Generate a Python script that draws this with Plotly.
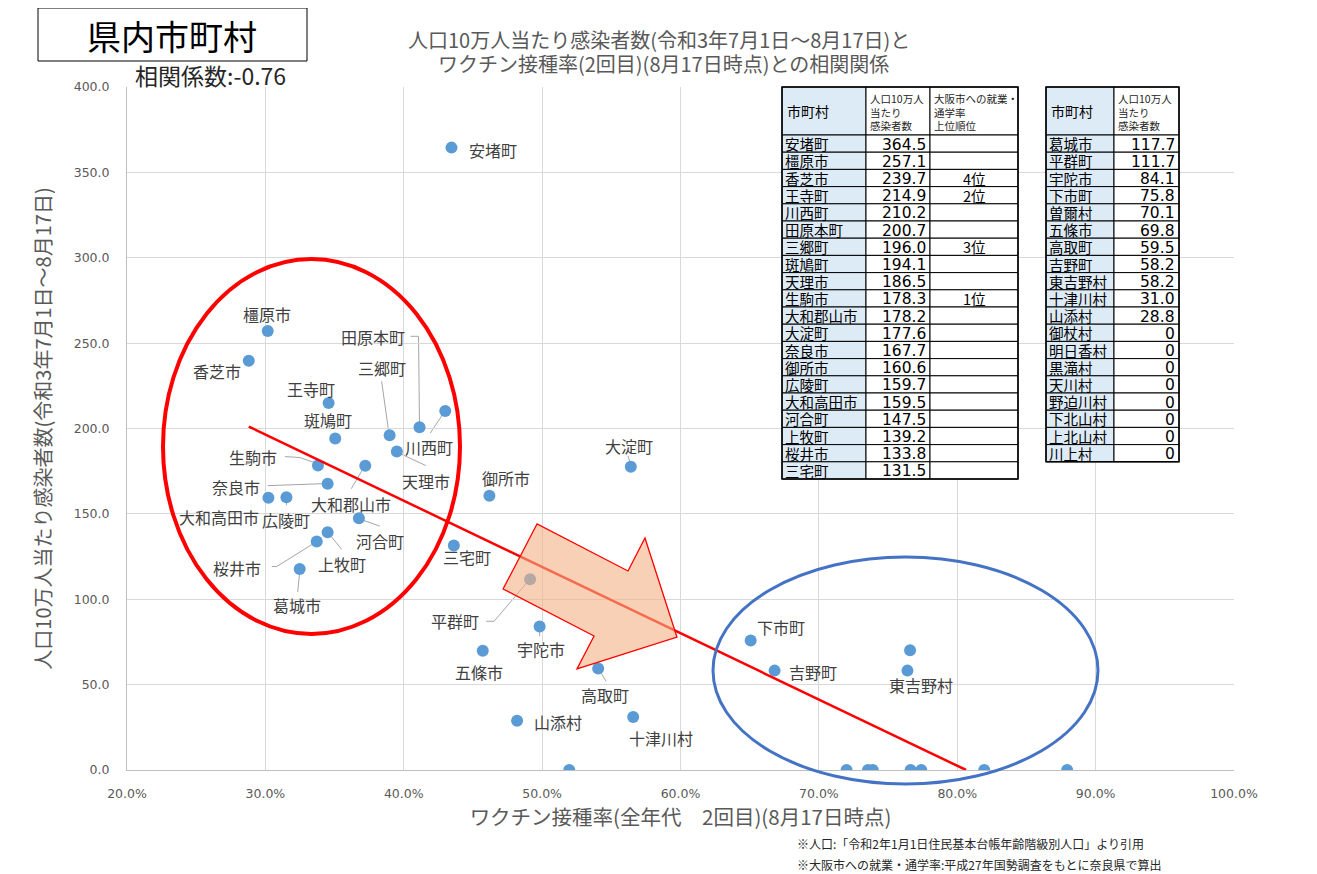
import numpy as np
import plotly.graph_objects as go

FONT = "Noto Sans CJK JP"

# 市町村(表の並び順:人口10万人当たり感染者数の多い順)
names = ["安堵町", "橿原市", "香芝市", "王寺町", "川西町", "田原本町", "三郷町", "斑鳩町", "天理市", "生駒市",
         "大和郡山市", "大淀町", "奈良市", "御所市", "広陵町", "大和高田市", "河合町", "上牧町", "桜井市", "三宅町",
         "葛城市", "平群町", "宇陀市", "下市町", "曽爾村", "五條市", "高取町", "吉野町", "東吉野村", "十津川村",
         "山添村", "御杖村", "明日香村", "黒滝村", "天川村", "野迫川村", "下北山村", "上北山村", "川上村"]
infection = [364.5, 257.1, 239.7, 214.9, 210.2, 200.7, 196.0, 194.1, 186.5, 178.3,
             178.2, 177.6, 167.7, 160.6, 159.7, 159.5, 147.5, 139.2, 133.8, 131.5,
             117.7, 111.7, 84.1, 75.8, 70.1, 69.8, 59.5, 58.2, 58.2, 31.0,
             28.8, 0, 0, 0, 0, 0, 0, 0, 0]
vaccine = [0.4345, 0.3017, 0.2880, 0.3457, 0.4300, 0.4114, 0.3898, 0.3505, 0.3950, 0.3380,
           0.3722, 0.5641, 0.3450, 0.4619, 0.3152, 0.3022, 0.3676, 0.3450, 0.3371, 0.4362,
           0.3248, 0.4913, 0.4982, 0.6507, 0.7659, 0.4571, 0.5405, 0.6680, 0.7640, 0.5658,
           0.4819, 0.8794, 0.5196, 0.7663, 0.7355, 0.7200, 0.7740, 0.8195, 0.7390]
osaka_rank = {"生駒市": "1位", "王寺町": "2位", "三郷町": "3位", "香芝市": "4位"}
corr_text = "相関係数:-0.76"

# ラベル位置(点からのピクセルずれ、右・下が正)
label_pos = {
    "安堵町": (42, 2), "橿原市": (-1, -17), "香芝市": (-32, 10), "王寺町": (-18, -14),
    "川西町": (-16, 36), "田原本町": (-47, -90), "三郷町": (-8, -67), "斑鳩町": (-7, -19),
    "天理市": (29, 29), "生駒市": (-65, -9), "大和郡山市": (-14, 38), "大淀町": (-2, -21),
    "奈良市": (-92, 3), "御所市": (17, -18), "広陵町": (0, 23), "大和高田市": (-49, 19),
    "河合町": (21, 23), "上牧町": (14, 32), "桜井市": (-80, 26), "三宅町": (13, 12),
    "葛城市": (-3, 36), "平群町": (-75, 42), "宇陀市": (1, 23), "下市町": (30, -14),
    "五條市": (-4, 21), "高取町": (7, 27), "吉野町": (38, 1), "東吉野村": (14, 14),
    "十津川村": (28, 21), "山添村": (41, 1),
}
# 引き出し線
leaders = {
    "川西町": [(-15, 22), (-1, 1)],
    "田原本町": [(-9, -91), (-1, -91), (0, -2)],
    "三郷町": [(-8, -54), (-1, -4)],
    "天理市": [(29, 14), (1, 1)],
    "生駒市": [(-33, -9), (-18, -8), (-1, -2)],
    "大和郡山市": [(-14, 23), (-1, 1)],
    "大淀町": [(-3, -11), (0, -2)],
    "奈良市": [(-60, 2), (-3, 0)],
    "広陵町": [(0, 8), (0, 2)],
    "河合町": [(21, 8), (1, 1)],
    "上牧町": [(14, 17), (1, 1)],
    "桜井市": [(-45, 25), (-40, 25), (0, 0)],
    "葛城市": [(-2, 23), (0, 3)],
    "平群町": [(-44, 42), (-36, 42), (-2, 2)],
    "宇陀市": [(0, 10), (0, 2)],
    "高取町": [(2, 3), (8, 13)],
}

# the page puts the figure 8px in from the top-left corner
PAGE = 8
FIG_W, FIG_H = 1317 - PAGE, 874 - PAGE
# plot area in page pixels
L, R, T, B = 127, 1234, 87, 770
W, H = R - L, B - T


def px(x):
    return (x - L) / W


def py(y):
    return (B - y) / H


fig = go.Figure()

fig.add_trace(go.Scatter(x=vaccine, y=infection, mode="markers", text=names,
                         marker=dict(color="#5B9BD5", size=12), hoverinfo="text+x+y"))

# 近似直線
xv = np.array(vaccine)
yv = np.array(infection)
slope, intercept = np.polyfit(xv, yv, 1)
x_line = np.array([xv.min(), -intercept / slope])
fig.add_trace(go.Scatter(x=x_line, y=slope * x_line + intercept, mode="lines",
                         line=dict(color="#FF0000", width=2.5), hoverinfo="skip"))

shapes = []
annotations = []

# data labels and leader lines
for n, xval, yval in zip(names, vaccine, infection):
    if n in label_pos:
        dx, dy = label_pos[n]
        annotations.append(dict(x=xval, y=yval, text=n, showarrow=False, xshift=dx, yshift=-dy,
                                font=dict(family=FONT, size=16, color="#404040")))
    if n in leaders:
        pts = leaders[n]
        path = "M" + " L".join(f"{a},{-b}" for a, b in pts)
        shapes.append(dict(type="path", xref="x", yref="y", xsizemode="pixel", ysizemode="pixel",
                           xanchor=xval, yanchor=yval, path=path, layer="below",
                           line=dict(color="#A6A6A6", width=1)))

# ellipses
shapes.append(dict(type="circle", xref="paper", yref="paper", x0=px(163), x1=px(460), y0=py(634), y1=py(259),
                   line=dict(color="#FF0000", width=4)))
shapes.append(dict(type="circle", xref="paper", yref="paper", x0=px(713), x1=px(1098), y0=py(784), y1=py(557),
                   line=dict(color="#4472C4", width=3)))

# arrow
arrow_px = [(537, 524), (503, 589), (594, 636), (577, 669), (677, 637), (645, 538), (628, 571)]
arrow_path = "M" + " L".join(f"{px(a):.4f},{py(b):.4f}" for a, b in arrow_px) + " Z"
shapes.append(dict(type="path", xref="paper", yref="paper", path=arrow_path,
                   fillcolor="rgba(244,176,132,0.6)", line=dict(color="#FF0000", width=1.3)))


# tables
def cell(x0, x1, y0, y1, fill):
    shapes.append(dict(type="rect", xref="paper", yref="paper", x0=px(x0), x1=px(x1), y0=py(y1), y1=py(y0),
                       fillcolor=fill, line=dict(color="#000000", width=1)))


def text(x, y, s, size, xanchor="left", yanchor="middle", color="#000000", align="left", family=FONT):
    annotations.append(dict(x=px(x), y=py(y), xref="paper", yref="paper", text=s, showarrow=False,
                            xanchor=xanchor, yanchor=yanchor, align=align,
                            font=dict(family=family, size=size, color=color)))


def fmt(v):
    return f"{v:.1f}" if v else "0"


HEAD_TOP, HEAD_BOT, ROW_H = 87, 135, 17.2
BLUE = "#DDEBF7"


def draw_table(cols, rows, with_rank):
    cell(cols[0], cols[1], HEAD_TOP, HEAD_BOT, BLUE)
    text(cols[0] + 3, (HEAD_TOP + HEAD_BOT) / 2, "市町村", 14)
    cell(cols[1], cols[2], HEAD_TOP, HEAD_BOT, "white")
    text(cols[1] + 2, HEAD_TOP + 2, "人口10万人<br>当たり<br>感染者数", 10.5, yanchor="top", color="#262626")
    if with_rank:
        cell(cols[2], cols[3], HEAD_TOP, HEAD_BOT, "white")
        text(cols[2] + 2, HEAD_TOP + 2, "大阪市への就業・<br>通学率<br>上位順位", 10.5, yanchor="top",
             color="#262626")
    for i, (n, v) in enumerate(rows):
        top = HEAD_BOT + i * ROW_H
        mid = top + ROW_H / 2
        cell(cols[0], cols[1], top, top + ROW_H, BLUE)
        cell(cols[1], cols[2], top, top + ROW_H, "white")
        text(cols[0] + 1, mid, n, 14.5)
        text(cols[2] - 2, mid + 1, fmt(v), 15.5, xanchor="right", family="DejaVu Sans")
        if with_rank:
            cell(cols[2], cols[3], top, top + ROW_H, "white")
            if n in osaka_rank:
                text((cols[2] + cols[3]) / 2, mid, osaka_rank[n], 14.5, xanchor="center")
    bottom = HEAD_BOT + len(rows) * ROW_H
    shapes.append(dict(type="rect", xref="paper", yref="paper", x0=px(cols[0]), x1=px(cols[-1]),
                       y0=py(bottom), y1=py(HEAD_TOP), line=dict(color="#000000", width=1.5)))


rows = list(zip(names, infection))
draw_table([782, 866, 930, 1018], rows[:20], True)
draw_table([1046, 1114, 1179], rows[20:], False)

# title box
shapes.append(dict(type="rect", xref="paper", yref="paper", x0=px(38), x1=px(307), y0=py(61), y1=py(8),
                   line=dict(color="#000000", width=1), fillcolor="white"))
text(172, 35, "県内市町村", 34, xanchor="center", color="#000000")
text(133, 75, corr_text, 23, color="#262626")

# chart title
text(659, 39, "人口10万人当たり感染者数(令和3年7月1日～8月17日)と", 20, xanchor="center", color="#595959")
text(663, 63, "ワクチン接種率(2回目)(8月17日時点)との相関関係", 20, xanchor="center", color="#595959")

# footnotes
text(795, 843, "※人口:「令和2年1月1日住民基本台帳年齢階級別人口」より引用", 12, color="#262626")
text(795, 864, "※大阪市への就業・通学率:平成27年国勢調査をもとに奈良県で算出", 12, color="#262626")

fig.update_layout(
    width=FIG_W, height=FIG_H,
    margin=dict(l=L - PAGE, r=FIG_W - (R - PAGE), t=T - PAGE, b=FIG_H - (B - PAGE)),
    paper_bgcolor="white", plot_bgcolor="white",
    showlegend=False,
    shapes=shapes, annotations=annotations,
    xaxis=dict(range=[0.2, 1.0], dtick=0.1, tickformat=".1%", showgrid=True, gridcolor="#D9D9D9",
               showline=True, linecolor="#BFBFBF", zeroline=False, ticks="", ticklabelstandoff=12,
               tickfont=dict(family="DejaVu Sans", size=12.5, color="#595959"),
               title=dict(text="ワクチン接種率(全年代　2回目)(8月17日時点)", standoff=2,
                          font=dict(family=FONT, size=20.5, color="#595959"))),
    yaxis=dict(range=[0, 400], dtick=50, tickformat=".1f", showgrid=True, gridcolor="#D9D9D9",
               showline=True, linecolor="#BFBFBF", zeroline=False, ticks="", ticklabelstandoff=14,
               tickfont=dict(family="DejaVu Sans", size=12.5, color="#595959"),
               title=dict(text="人口10万人当たり感染者数(令和3年7月1日～8月17日)", standoff=16,
                          font=dict(family=FONT, size=20, color="#595959"))),
)

fig.write_html("out.html")
